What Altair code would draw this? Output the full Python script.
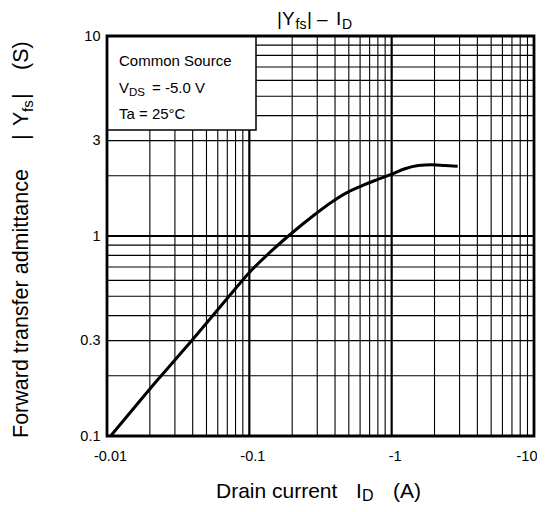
import altair as alt
import pandas as pd

# ---- data ----
id_a = [0.0106, 0.0160, 0.0227, 0.0300, 0.0389, 0.0562, 0.0750, 0.099, 0.140, 0.188,
        0.290, 0.389, 0.496, 0.600, 0.806, 1.00, 1.24, 1.54, 1.91, 2.37, 2.91]
yfs_s = [0.100, 0.142, 0.191, 0.240, 0.297, 0.405, 0.517, 0.652, 0.83, 1.00,
         1.285, 1.497, 1.662, 1.768, 1.923, 2.04, 2.17, 2.25, 2.27, 2.25, 2.23]

x_minor = [0.02, 0.03, 0.04, 0.05, 0.06, 0.07, 0.08, 0.09,
           0.2, 0.3, 0.4, 0.5, 0.6, 0.7, 0.8, 0.9,
           2, 3, 4, 5, 6, 7, 8, 9]
x_major = [0.1, 1]
y_minor = [0.2, 0.3, 0.4, 0.5, 0.6, 0.7, 0.8, 0.9,
           2, 3, 4, 5, 6, 7, 8, 9]
y_major = [1]

x_ticks = [0.01, 0.1, 1, 10]
x_tick_labels = ["-0.01", "-0.1", "-1", "-10"]
y_ticks = [0.1, 0.3, 1, 3, 10]
y_tick_labels = ["0.1", "0.3", "1", "3", "10"]

W, H = 427, 400
FONT = "Liberation Sans"

xs = alt.Scale(type="log", domain=[0.01, 10], nice=False)
ys = alt.Scale(type="log", domain=[0.1, 10], nice=False)

def lbl_expr(vals, labels):
    return "[" + ",".join("'%s'" % l for l in labels) + "][indexof([" + \
        ",".join(repr(v) for v in vals) + "], datum.value)]"

xaxis = alt.Axis(values=x_ticks, labelExpr=lbl_expr(x_ticks, x_tick_labels),
                 grid=False, ticks=False, tickSize=0, domain=False,
                 labelFont=FONT, labelFontSize=14.5, labelColor="black",
                 labelPadding=13, labelOffset=3, labelFlush=False, labelOverlap=False,
                 labelAlign={"condition": {"test": "datum.value >= %r" % x_ticks[-1], "value": "right"},
                             "value": "center"})
yaxis = alt.Axis(values=y_ticks, labelExpr=lbl_expr(y_ticks, y_tick_labels),
                 grid=False, ticks=False, tickSize=0, domain=False,
                 labelFont=FONT, labelFontSize=14.5, labelColor="black",
                 labelPadding=7, labelFlush=False, labelOverlap=False)

curve_df = pd.DataFrame({"id": id_a, "yfs": yfs_s})

vminor = alt.Chart(pd.DataFrame({"v": x_minor})).mark_rule(color="black", strokeWidth=1.1).encode(
    x=alt.X("v:Q", scale=xs, axis=xaxis, title=None))
vmajor = alt.Chart(pd.DataFrame({"v": x_major})).mark_rule(color="black", strokeWidth=2.2).encode(
    x=alt.X("v:Q", scale=xs, axis=xaxis, title=None))
hminor = alt.Chart(pd.DataFrame({"v": y_minor})).mark_rule(color="black", strokeWidth=1.1).encode(
    y=alt.Y("v:Q", scale=ys, axis=yaxis, title=None))
hmajor = alt.Chart(pd.DataFrame({"v": y_major})).mark_rule(color="black", strokeWidth=2.2).encode(
    y=alt.Y("v:Q", scale=ys, axis=yaxis, title=None))

one = pd.DataFrame({"k": [0]})

box = alt.Chart(one).mark_rect(fill="white", stroke="black", strokeWidth=1.5).encode(
    x=alt.value(0), x2=alt.value(149), y=alt.value(0), y2=alt.value(94))

curve = alt.Chart(curve_df).mark_line(color="black", strokeWidth=3, interpolate="monotone").encode(
    x=alt.X("id:Q", scale=xs, axis=xaxis, title=None),
    y=alt.Y("yfs:Q", scale=ys, axis=yaxis, title=None),
)

frame = alt.Chart(one).mark_rect(filled=False, stroke="black", strokeWidth=2.8).encode(
    x=alt.value(0), x2=alt.value(W), y=alt.value(0), y2=alt.value(H))

def txt(s, x, y, size, angle=0):
    return alt.Chart(pd.DataFrame({"t": [s]})).mark_text(
        align="left", baseline="alphabetic", font=FONT, fontSize=size, color="black", angle=angle
    ).encode(x=alt.value(x), y=alt.value(y), text="t:N")

texts = [
    # chart title |Yfs| – ID
    txt("|Y", 170, -11, 19), txt("fs", 188.5, -7.5, 14), txt("|", 200, -11, 19),
    txt("–", 210, -11, 19), txt("I", 229, -11, 19), txt("D", 235, -7, 14),
    # legend box
    txt("Common Source", 12, 30, 15),
    txt("V", 12, 57, 15), txt("DS", 22, 60, 11.5), txt("= -5.0 V", 45, 57, 15),
    txt("Ta = 25°C", 12, 83, 15),
    # x axis title
    txt("Drain current", 109, 462, 21), txt("I", 249, 462, 21), txt("D", 255, 465, 16),
    txt("(A)", 286, 462, 21),
    # y axis title (rotated)
    txt("Forward transfer admittance", -79, 402, 21.5, 270),
    txt("|", -79, 104, 21.5, 270), txt("Y", -79, 90, 21.5, 270),
    txt("fs", -74, 76, 15, 270),
    txt("|", -79, 63, 21.5, 270), txt("(S)", -79, 34, 21.5, 270),
]

chart = alt.layer(vminor, vmajor, hminor, hmajor, box, curve, frame, *texts).properties(
    width=W, height=H,
    autosize=alt.AutoSizeParams(type="none"),
    padding={"left": 99, "top": 28, "right": 3, "bottom": 68},
).configure_view(stroke=None).configure(background="white")

chart.save("out.html", embed_options={"renderer": "svg", "actions": False})
